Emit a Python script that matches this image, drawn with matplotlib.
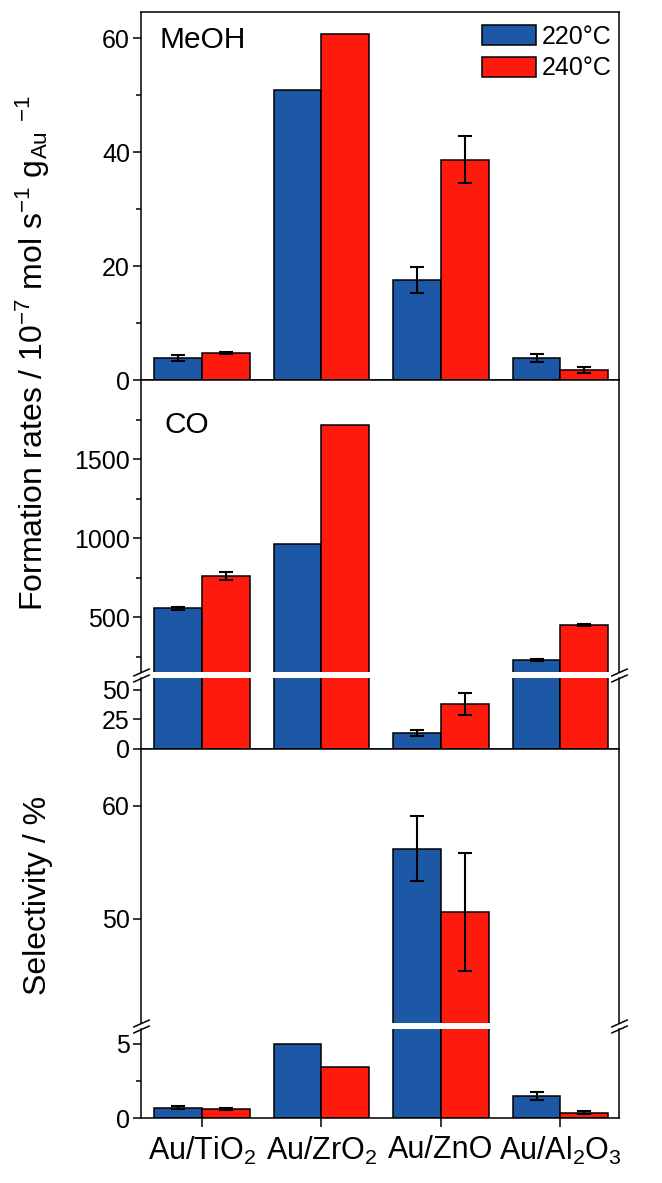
import numpy as np
import matplotlib
matplotlib.use("Agg")
import matplotlib.pyplot as plt
from matplotlib.ticker import FixedLocator

# ---------------- STYLE ----------------
plt.rcParams['font.family'] = ['Liberation Sans', 'DejaVu Sans']
plt.rcParams['mathtext.default'] = 'regular'

BLUE = "#1D58A6"
RED = "#FF1A0E"
TICK_FS = 18
XLAB_FS = 22
LABEL_FS = 23
PANEL_FS = 21.5
LEGEND_FS = 18

# ---------------- DATA ----------------
catalysts = ["Au/TiO$_2$", "Au/ZrO$_2$", "Au/ZnO", "Au/Al$_2$O$_3$"]
temps = ["220°C", "240°C"]

meoh_220 = [3.9, 50.9, 17.5, 3.8]
meoh_240 = [4.7, 60.8, 38.7, 1.8]
meoh_220_err = [0.5, np.nan, 2.3, 0.7]
meoh_240_err = [0.2, np.nan, 4.1, 0.5]

co_220 = [555, 962, 13.5, 228]
co_240 = [760, 1715, 38, 450]
co_220_err = [10, np.nan, 2.5, 6]
co_240_err = [27, np.nan, 9, 5]

sel_220 = [0.7, 5.0, 56.2, 1.5]
sel_240 = [0.6, 3.45, 50.6, 0.35]
sel_220_err = [0.12, np.nan, 2.85, 0.27]
sel_240_err = [0.06, np.nan, 5.25, 0.1]

# ---------------- LAYOUT (pixel rows of each axes) ----------------
W, H = 662, 1183
L, R = 141, 619


def rect(top, bottom):
    return [L / W, 1 - bottom / H, (R - L) / W, (bottom - top) / H]


fig = plt.figure(figsize=(W / 100, H / 100), dpi=100)
ax1 = fig.add_axes(rect(12, 380))
ax2a = fig.add_axes(rect(380, 672))
ax2b = fig.add_axes(rect(678, 749))
ax3a = fig.add_axes(rect(749, 1023))
ax3b = fig.add_axes(rect(1029, 1118))

x = np.arange(len(catalysts))
width = 0.4


def draw(ax, v1, v2, e1, e2):
    b1 = ax.bar(x - width / 2, v1, width, color=BLUE, edgecolor="black",
                linewidth=1.1, label=temps[0], zorder=2)
    b2 = ax.bar(x + width / 2, v2, width, color=RED, edgecolor="black",
                linewidth=1.1, label=temps[1], zorder=2)
    for xs, vs, es in [(x - width / 2, v1, e1), (x + width / 2, v2, e2)]:
        es = np.array(es, dtype=float)
        ok = ~np.isnan(es)
        ax.errorbar(xs[ok], np.array(vs)[ok], yerr=es[ok], fmt="none",
                    ecolor="black", elinewidth=1.5, capsize=5, capthick=1.5,
                    zorder=3)
    ax.set_xlim(-0.51, 3.49)
    ax.tick_params(axis="both", which="major", direction="out", length=6,
                   width=1.1, labelsize=TICK_FS, pad=2)
    ax.tick_params(axis="both", which="minor", direction="out", length=3.5,
                   width=1.1)
    ax.tick_params(top=False, right=False)
    for s in ax.spines.values():
        s.set_linewidth(1.1)
    ax.set_xticks(x)
    return b1, b2


def hide_bottom(ax):
    ax.spines["bottom"].set_visible(False)
    ax.tick_params(axis="x", which="both", bottom=False, labelbottom=False)


def hide_top(ax):
    ax.spines["top"].set_visible(False)


def break_marks(ax, y):
    ax.plot([0, 1], [y, y], transform=ax.transAxes, marker=[(-1, -0.45), (1, 0.45)],
            markersize=12, linestyle="none", color="k", mec="k", mew=1.1,
            clip_on=False, zorder=5)


# MeOH panel
draw(ax1, meoh_220, meoh_240, meoh_220_err, meoh_240_err)
ax1.set_ylim(0, 64.6)
ax1.yaxis.set_major_locator(FixedLocator([0, 20, 40, 60]))
ax1.yaxis.set_minor_locator(FixedLocator([10, 30, 50]))
ax1.tick_params(axis="x", labelbottom=False, length=6.5)
ax1.text(0.038, 0.902, "MeOH", transform=ax1.transAxes, fontsize=PANEL_FS,
         va="baseline", ha="left")
ax1.legend(loc="upper right", bbox_to_anchor=(0.985, 0.965), frameon=False,
           fontsize=LEGEND_FS, handlelength=2.16, handleheight=0.88,
           handletextpad=0.25, labelspacing=0.3, borderpad=0, borderaxespad=0)

# CO panel (broken)
draw(ax2a, co_220, co_240, co_220_err, co_240_err)
ax2a.set_ylim(152, 2000)
ax2a.yaxis.set_major_locator(FixedLocator([500, 1000, 1500]))
ax2a.yaxis.set_minor_locator(FixedLocator([250, 750, 1250, 1750]))
hide_bottom(ax2a)
ax2a.text(0.05, 0.818, "CO", transform=ax2a.transAxes, fontsize=PANEL_FS,
          va="baseline", ha="left")

draw(ax2b, co_220, co_240, co_220_err, co_240_err)
ax2b.set_ylim(0, 60)
ax2b.yaxis.set_major_locator(FixedLocator([0, 25, 50]))
hide_top(ax2b)
ax2b.tick_params(axis="x", labelbottom=False, length=6.5)
break_marks(ax2a, 0.0)
break_marks(ax2b, 1.0)

# Selectivity panel (broken)
draw(ax3a, sel_220, sel_240, sel_220_err, sel_240_err)
ax3a.set_ylim(40.8, 65)
ax3a.yaxis.set_major_locator(FixedLocator([50, 60]))
hide_bottom(ax3a)

draw(ax3b, sel_220, sel_240, sel_220_err, sel_240_err)
ax3b.set_ylim(0, 6)
ax3b.yaxis.set_major_locator(FixedLocator([0, 5]))
ax3b.yaxis.set_minor_locator(FixedLocator([2.5]))
hide_top(ax3b)
ax3b.tick_params(axis="x", length=6.5)
ax3b.set_xticklabels(catalysts, fontsize=XLAB_FS)
ax3b.tick_params(axis="x", pad=6)
break_marks(ax3a, 0.0)
break_marks(ax3b, 1.0)

# Axis labels
fig.text(33 / W, 1 - 353 / H,
         "Formation rates / 10$^{-7}$ mol s$^{-1}$ g$_{Au}$ $^{-1}$",
         rotation=90, ha="center", va="center", fontsize=LABEL_FS)
fig.text(38 / W, 1 - 895 / H, "Selectivity / %", rotation=90,
         ha="center", va="center", fontsize=LABEL_FS)

fig.savefig("out.png", dpi=100)
